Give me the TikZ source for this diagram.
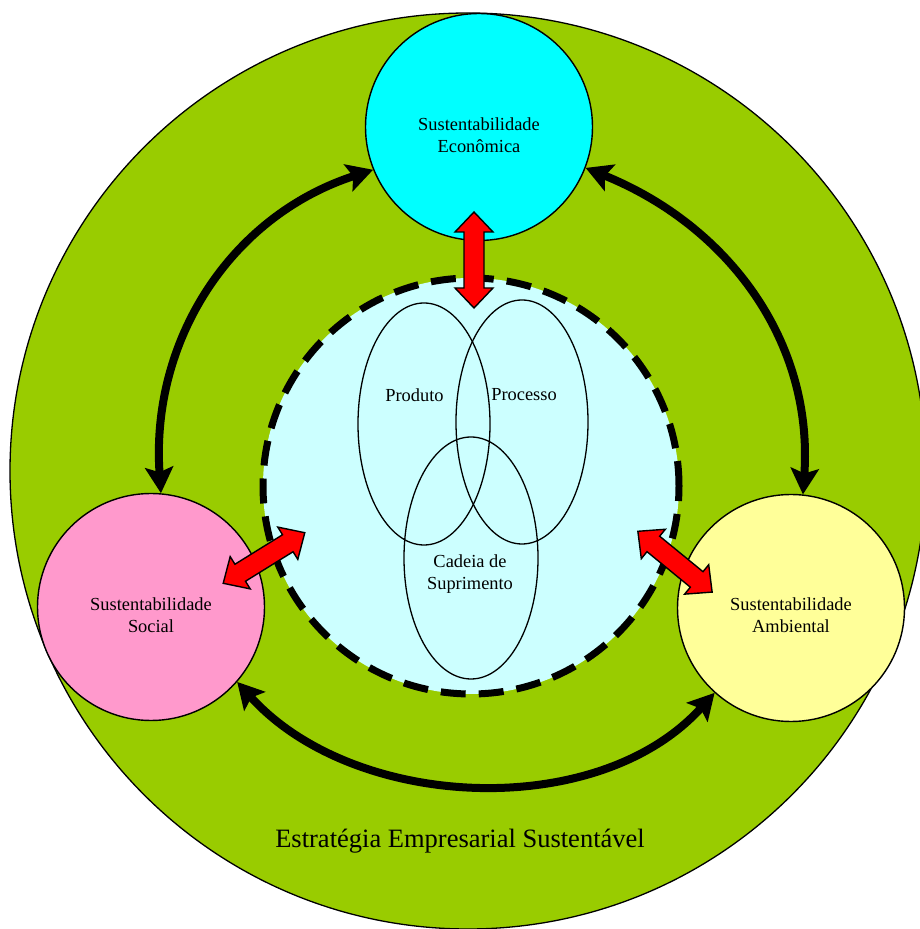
\documentclass[tikz,border=0pt]{standalone}
\usepackage{fontspec}
\setmainfont{Liberation Serif}
\usetikzlibrary{arrows.meta,shapes.geometric}

\definecolor{leafgreen}{HTML}{99CC00}
\definecolor{econcyan}{HTML}{00FFFF}
\definecolor{corecyan}{HTML}{CCFFFF}
\definecolor{socialpink}{HTML}{FF99CC}
\definecolor{envyellow}{HTML}{FFFF99}
\definecolor{linkred}{HTML}{FF0000}

\tikzset{
  pillar/.style={circle, draw=black, line width=1.4pt, inner sep=0pt, minimum size=227pt},
  lens/.style={ellipse, draw=black, line width=1.3pt, inner sep=0pt},
  smalltext/.style={align=center, font=\fontsize{18.4}{21.7}\selectfont},
  cycle arrow/.style={line width=8pt,
    {Stealth[length=26pt,width=28pt,inset=5pt]}-{Stealth[length=26pt,width=28pt,inset=5pt]}},
  redarrow/.pic={
    \draw[fill=linkred, draw=black, line width=1.4pt, line join=miter]
      (-48,0) -- (-28,19) -- (-28,10) -- (28,10) -- (28,19) -- (48,0)
      -- (28,-19) -- (28,-10) -- (-28,-10) -- (-28,-19) -- cycle;
  }
}

\begin{document}
\begin{tikzpicture}[x=1pt, y=1pt]
  \useasboundingbox (0,0) rectangle (920,929);

  % outer strategy disc
  \node[circle, draw=black, line width=1.3pt, fill=leafgreen, inner sep=0pt,
        minimum size=916pt] (strategy) at (468,458) {};

  % central dashed core
  \node[circle, fill=corecyan, draw=black, line width=7pt,
        dash pattern=on 25pt off 13pt, inner sep=0pt, minimum size=416pt] (core) at (471,443) {};

  % overlapping lenses
  \node[lens, minimum width=132pt, minimum height=242pt] (prod) at (424,505) {};
  \node[lens, minimum width=132pt, minimum height=244pt] (proc) at (522,507) {};
  \node[lens, minimum width=134pt, minimum height=242pt] (chain) at (471,371) {};

  \node[smalltext] (prodT) at (414.5,534) {Produto};
  \node[smalltext] (procT) at (524,534) {Processo};
  \node[smalltext] (chainT) at (470,355) {Cadeia de\\Suprimento};

  % the three pillars
  \node[pillar, fill=econcyan] (eco) at (479,802) {};
  \node[pillar, fill=socialpink] (soc) at (151,322) {};
  \node[pillar, fill=envyellow] (amb) at (791,321) {};

  \node[smalltext] (ecoT) at (479,794) {Sustentabilidade\\Econômica};
  \node[smalltext] (socT) at (151,314) {Sustentabilidade\\Social};
  \node[smalltext] (ambT) at (791,314) {Sustentabilidade\\Ambiental};

  % cycle between the pillars
  \draw[cycle arrow] (soc.85.5) to[out=94, in=198] (eco.202);
  \draw[cycle arrow] (eco.-21) to[out=-22, in=86] (amb.84);
  \draw[cycle arrow] (soc.-41.5) to[out=-48, in=228, looseness=0.93] (amb.228.6);

  % links from the core to each pillar
  \pic[rotate=90] at (474,669) {redarrow};
  \pic[rotate=31.8] at (264,371) {redarrow};
  \pic[rotate=-39.3] at (675,367.3) {redarrow};

  \node[font=\fontsize{26.5}{30}\selectfont] (title) at (460,88) {Estratégia Empresarial Sustentável};
\end{tikzpicture}
\end{document}
